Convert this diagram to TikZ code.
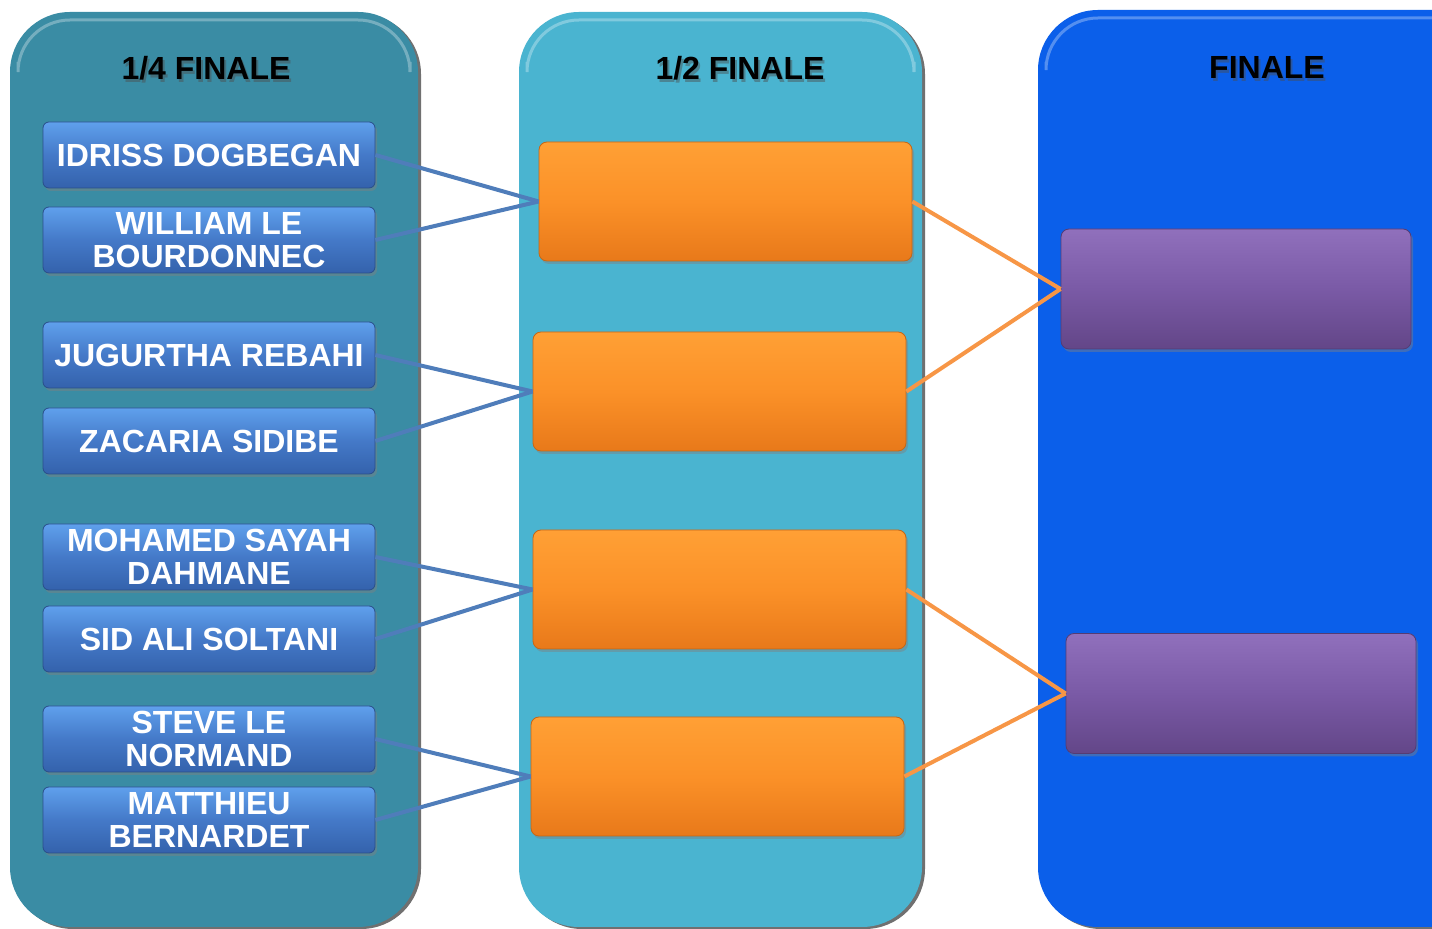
\documentclass[tikz,border=0pt]{standalone}
\usepackage{fontspec}
\setmainfont{Liberation Sans}
\usetikzlibrary{shadows}
\definecolor{panA}{HTML}{3A8CA4}
\definecolor{panB}{HTML}{4AB4D0}
\definecolor{panC}{HTML}{0B5FEA}
\definecolor{btnTop}{HTML}{5FA0EC}
\definecolor{btnMid}{HTML}{4479C8}
\definecolor{btnBot}{HTML}{3462AC}
\definecolor{orTop}{HTML}{FFA035}
\definecolor{orMid}{HTML}{FB9128}
\definecolor{orBot}{HTML}{E8791A}
\definecolor{puTop}{HTML}{9070BC}
\definecolor{puMid}{HTML}{7A5AA6}
\definecolor{puBot}{HTML}{634688}
\definecolor{lineBlue}{HTML}{4F7DBA}
\definecolor{lineOrange}{HTML}{F79646}
\tikzset{
  panel/.style={rounded corners=30pt, drop shadow={opacity=0.7, shadow xshift=1.5pt, shadow yshift=-1pt, fill=black!80}},
  hilite/.style={white, opacity=0.3, line width=1.5pt, rounded corners=26pt},
  title/.style={font=\fontsize{16}{17}\selectfont\bfseries, text=black},
  tshadow/.style={title, text=black!70, opacity=0.45},
  player/.style={rounded corners=3pt, minimum width=166pt, minimum height=33pt, inner sep=0pt,
     top color=btnTop, bottom color=btnBot, middle color=btnMid, draw=btnBot!80!black, line width=0.4pt,
     align=center, text=white, font=\fontsize{16}{16.5}\selectfont\bfseries,
     drop shadow={opacity=0.45, shadow xshift=1pt, shadow yshift=-1.5pt}},
  semi/.style={rounded corners=4pt, minimum width=186.5pt, minimum height=59.5pt, inner sep=0pt,
     top color=orTop, bottom color=orBot, middle color=orMid, draw=orBot!85!black, line width=0.4pt,
     drop shadow={opacity=0.45, shadow xshift=1pt, shadow yshift=-1.5pt}},
  fin/.style={rounded corners=4pt, minimum width=175pt, minimum height=60pt, inner sep=0pt,
     top color=puTop, bottom color=puBot, middle color=puMid, draw=puBot!85!black, line width=0.4pt,
     drop shadow={opacity=0.45, shadow xshift=1pt, shadow yshift=-1.5pt}},
  bl/.style={draw=lineBlue, line width=2pt},
  ol/.style={draw=lineOrange, line width=2pt},
}
\begin{document}
\begin{tikzpicture}[x=0.5pt,y=-0.5pt]
\useasboundingbox (0,0) rectangle (1432,929);
% panels
\fill[panel, panA] (10,12) rectangle (418,927);
\fill[panel, panB] (519,12) rectangle (922,927);
\fill[panel, panC] (1038,10) rectangle (1500,927);
% top highlights
\draw[hilite] (18,62) -- (18,20) -- (410,20) -- (410,62);
\draw[hilite] (527,62) -- (527,20) -- (914,20) -- (914,62);
\draw[hilite] (1046,62) -- (1046,18) -- (1440,18);
% titles
\node[tshadow] at (208,71) {1/4 FINALE};
\node[title] (t1) at (206,68) {1/4 FINALE};
\node[tshadow] at (742,71) {1/2 FINALE};
\node[title] (t2) at (740,68) {1/2 FINALE};
\node[tshadow] at (1269,71) {FINALE};
\node[title] (t3) at (1267,68) {FINALE};
% players
\node[player] (p1) at (209,155) {IDRISS DOGBEGAN};
\node[player] (p2) at (209,240) {WILLIAM LE\\BOURDONNEC};
\node[player] (p3) at (209,355) {JUGURTHA REBAHI};
\node[player] (p4) at (209,441) {ZACARIA SIDIBE};
\node[player] (p5) at (209,557) {MOHAMED SAYAH\\DAHMANE};
\node[player] (p6) at (209,639) {SID ALI SOLTANI};
\node[player] (p7) at (209,739) {STEVE LE\\NORMAND};
\node[player] (p8) at (209,820) {MATTHIEU\\BERNARDET};
% semi-finals
\node[semi] (o1) at (725.5,201.5) {};
\node[semi] (o2) at (719.5,391.5) {};
\node[semi] (o3) at (719.5,589.5) {};
\node[semi] (o4) at (717.5,776.5) {};
% finals
\node[fin] (f1) at (1236,289) {};
\node[fin] (f2) at (1241,693.5) {};
% connectors
\draw[bl] (p1.east) -- (o1.west);
\draw[bl] (p2.east) -- (o1.west);
\draw[bl] (p3.east) -- (o2.west);
\draw[bl] (p4.east) -- (o2.west);
\draw[bl] (p5.east) -- (o3.west);
\draw[bl] (p6.east) -- (o3.west);
\draw[bl] (p7.east) -- (o4.west);
\draw[bl] (p8.east) -- (o4.west);
\draw[ol] (o1.east) -- (f1.west);
\draw[ol] (o2.east) -- (f1.west);
\draw[ol] (o3.east) -- (f2.west);
\draw[ol] (o4.east) -- (f2.west);
\end{tikzpicture}
\end{document}
